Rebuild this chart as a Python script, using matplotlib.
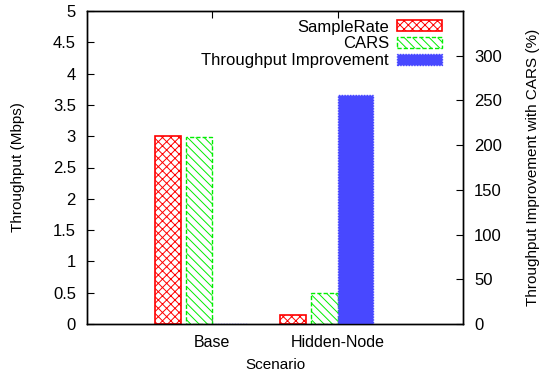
import matplotlib
matplotlib.use("Agg")
import matplotlib.pyplot as plt
from matplotlib.patches import Patch

plt.rcParams['font.family'] = ['Liberation Sans', 'DejaVu Sans']
plt.rcParams['hatch.linewidth'] = 0.7

scenarios = ["Base", "Hidden-Node"]
samplerate = [3.0, 0.14]
cars = [2.98, 0.50]
improvement = [-0.7, 256]

red = "#ff0000"
green = "#00ee00"
blue = "#4848ff"
fs = 12

fig = plt.figure(figsize=(5.39, 3.78), dpi=100)
ax = fig.add_axes([87/539, 1-324/378, (463-87)/539, (324-11)/378])
ax2 = ax.twinx()

x = list(range(len(scenarios)))
w = 0.21
ax.bar([i - 0.46 for i in x], samplerate, width=w, align='edge',
       facecolor='white', edgecolor=red, hatch='xxxx', linewidth=1.2, zorder=2)
ax.bar([i - 0.21 for i in x], cars, width=w, align='edge',
       facecolor='white', edgecolor=green, hatch='\\\\\\\\', linewidth=1.0,
       linestyle=(0, (3, 1.5)), zorder=2)
ax2.bar([i for i in x], improvement, width=0.28, align='edge',
        facecolor=blue, edgecolor=blue, linewidth=1.0,
        linestyle=(0, (1, 1)), zorder=2)

ax.set_xlim(-1, 2)
ax.set_ylim(0, 5)
ax2.set_ylim(0, 350)
ax.set_xticks(x)
ax.set_xticklabels(scenarios)
ax.set_yticks([0, 0.5, 1, 1.5, 2, 2.5, 3, 3.5, 4, 4.5, 5])
ax.set_yticklabels(["0", "0.5", "1", "1.5", "2", "2.5", "3", "3.5", "4", "4.5", "5"])
ax2.set_yticks([0, 50, 100, 150, 200, 250, 300])

ax.tick_params(axis='x', direction='in', top=True, length=5, labelsize=fs - 0.5, pad=8)
ax.tick_params(axis='y', direction='in', length=5, labelsize=fs, pad=8)
ax2.tick_params(axis='y', direction='in', length=5, labelsize=fs, pad=8)
for a in (ax, ax2):
    for s in a.spines.values():
        s.set_linewidth(1.0)

ax.set_xlabel("Scenario", fontsize=11, labelpad=6)
ax.set_ylabel("Throughput (Mbps)", fontsize=11, labelpad=20)
ax2.set_ylabel("Throughput Improvement with CARS (%)", fontsize=11,
               labelpad=17)

handles = [
    Patch(facecolor='white', edgecolor=red, hatch='xxxx', linewidth=1.2),
    Patch(facecolor='white', edgecolor=green, hatch='\\\\\\\\', linewidth=1.0,
          linestyle=(0, (3, 1.5))),
    Patch(facecolor=blue, edgecolor=blue, linewidth=1.0, linestyle=(0, (1, 1))),
]
labels = ["SampleRate", "CARS", "Throughput Improvement"]
leg = ax2.legend(handles, labels, loc='upper right', frameon=False,
                 markerfirst=False, fontsize=fs, handlelength=2.7,
                 handleheight=0.65, handletextpad=0.5, labelspacing=0.1,
                 borderaxespad=0.0, bbox_to_anchor=(1 - 14/376, 1 - 2/313))
for t in leg.get_texts():
    t.set_ha('right')

fig.savefig("out.png", dpi=100)
